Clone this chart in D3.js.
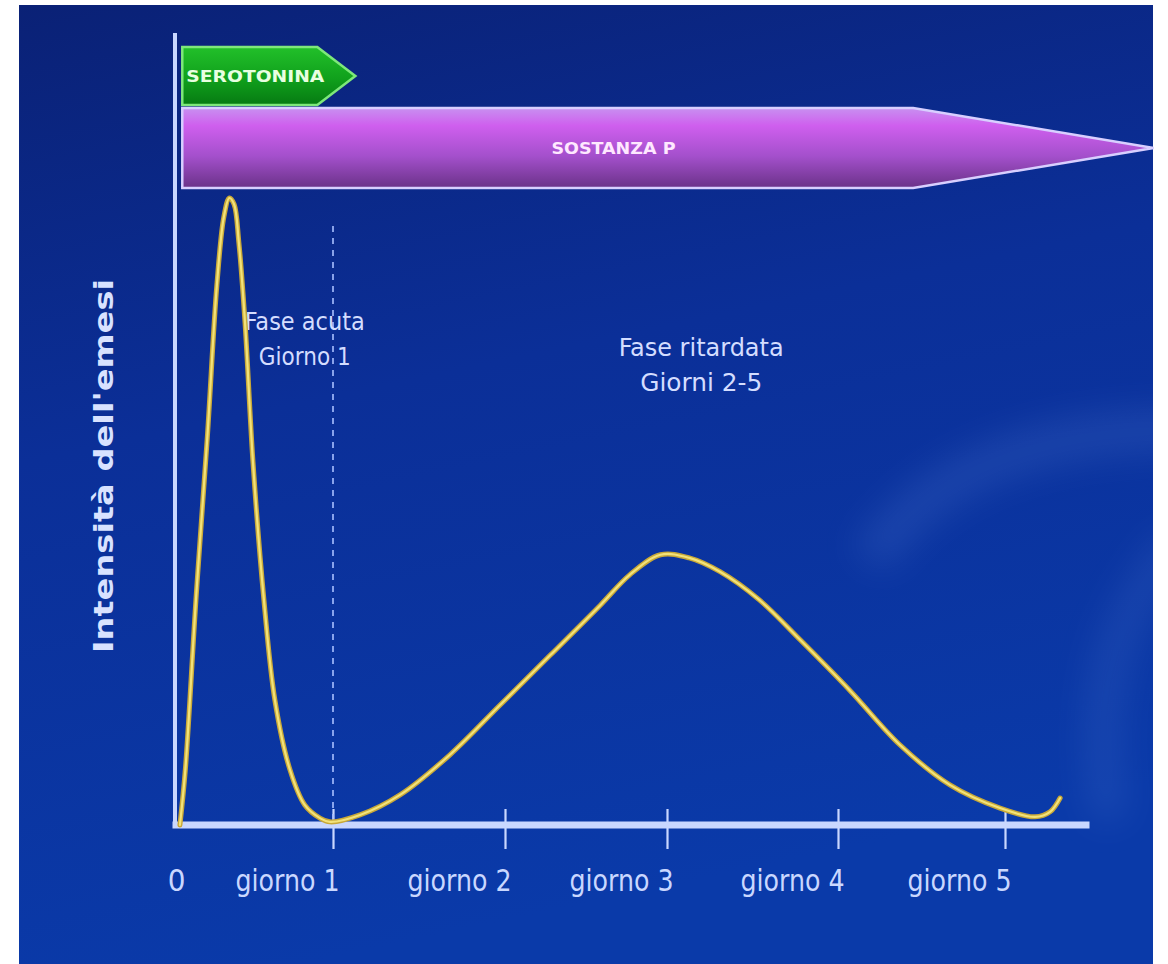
<!DOCTYPE html>
<html>
<head>
<meta charset="utf-8">
<script src="https://cdn.jsdelivr.net/npm/d3@7"></script>
<style>
  html, body { margin: 0; padding: 0; background: #ffffff; }
  svg { display: block; }
</style>
</head>
<body>
<svg id="chart" width="1168" height="964"></svg>
<script>
// Time axis: days after chemotherapy
const dayTicks = [0, 1, 2, 3, 4, 5];
const tickLabels = ["0", "giorno 1", "giorno 2", "giorno 3", "giorno 4", "giorno 5"];

// Emesis intensity over time (relative units, acute peak = 100)
const curveDays = [0.025, 0.06, 0.127, 0.2, 0.26, 0.305, 0.34, 0.37, 0.4, 0.44, 0.49, 0.56, 0.63, 0.726, 0.82, 0.917, 0.98,
                   1.157, 1.39, 1.68, 1.97, 2.28, 2.59, 2.77, 2.96, 3.13, 3.31, 3.54, 3.78, 4.07, 4.37, 4.67, 4.97, 5.18, 5.27, 5.33];
const curveIntensity = [0, 9, 35.9, 62, 86, 97, 100, 99, 93, 80, 58, 35.9, 19.9, 8.8, 3.2, 1.1, 0.5,
                        1.6, 4.8, 11.2, 19.1, 27.1, 35.1, 39.9, 43.1, 42.6, 40.4, 35.9, 29.5, 21.5, 12.8, 6.4, 2.7, 1.3, 2.1, 4.3];

// Mediators and the span (in days) over which they act
const mediators = ["SEROTONINA", "SOSTANZA P"];
const mediatorStart = [0.04, 0.04];
const mediatorBodyEnd = [0.9, 4.45];
const mediatorTip = [1.13, 5.89];

// Phase annotations
const phaseTitles = ["Fase acuta", "Fase ritardata"];
const phaseSubtitles = ["Giorno 1", "Giorni 2-5"];
const phaseCentres = [0.82, 3.2];
const acuteBoundary = 1;

const yLabel = "Intensità dell'emesi";

const svg = d3.select("#chart");
const defs = svg.append("defs");

// ---- background panel ----
const panel = { x: 19, y: 5, w: 1134, h: 959 };
const bg = defs.append("linearGradient").attr("id", "bg").attr("x1", 0).attr("y1", 0).attr("x2", 0.25).attr("y2", 1);
bg.append("stop").attr("offset", "0%").attr("stop-color", "#0a2176");
bg.append("stop").attr("offset", "45%").attr("stop-color", "#0b2f98");
bg.append("stop").attr("offset", "100%").attr("stop-color", "#0a3aa9");

defs.append("clipPath").attr("id", "panelClip")
  .append("rect").attr("x", panel.x).attr("y", panel.y).attr("width", panel.w).attr("height", panel.h);

defs.append("filter").attr("id", "soft").attr("filterUnits", "userSpaceOnUse")
  .attr("x", 0).attr("y", 0).attr("width", 1168).attr("height", 964)
  .append("feGaussianBlur").attr("stdDeviation", 18);

svg.append("rect").attr("x", panel.x).attr("y", panel.y).attr("width", panel.w).attr("height", panel.h).attr("fill", "url(#bg)");

// faint light sweep on the right of the panel
const sweep = svg.append("g").attr("clip-path", "url(#panelClip)");
sweep.append("path")
  .attr("d", "M870,560 C930,470 1040,430 1190,430")
  .attr("fill", "none").attr("stroke", "#5a82d8").attr("stroke-width", 40)
  .attr("opacity", 0.22).attr("filter", "url(#soft)");
sweep.append("path")
  .attr("d", "M1180,540 C1110,620 1090,700 1110,820")
  .attr("fill", "none").attr("stroke", "#5a82d8").attr("stroke-width", 34)
  .attr("opacity", 0.2).attr("filter", "url(#soft)");

// ---- scales ----
const x = d3.scaleLinear().domain(dayTicks).range([176, 333, 505, 667, 838, 1005]);
const y = d3.scaleLinear().domain([0, 100]).range([825, 198]);

const axisColor = "#c9d7ff";

// ---- mediator arrows ----
const gGreen = defs.append("linearGradient").attr("id", "green").attr("x1", 0).attr("y1", 0).attr("x2", 0).attr("y2", 1);
gGreen.append("stop").attr("offset", "0%").attr("stop-color", "#22c02a");
gGreen.append("stop").attr("offset", "55%").attr("stop-color", "#10a01c");
gGreen.append("stop").attr("offset", "100%").attr("stop-color", "#067a12");

const gPurple = defs.append("linearGradient").attr("id", "purple").attr("x1", 0).attr("y1", 0).attr("x2", 0).attr("y2", 1);
gPurple.append("stop").attr("offset", "0%").attr("stop-color", "#c890f0");
gPurple.append("stop").attr("offset", "22%").attr("stop-color", "#cf5fee");
gPurple.append("stop").attr("offset", "60%").attr("stop-color", "#a450cc");
gPurple.append("stop").attr("offset", "100%").attr("stop-color", "#6a3288");

const bands = [{ top: 47, bottom: 105, fill: "url(#green)", edge: "#7ee87a", text: "#e8ffe0", anchor: 0.03, len: 138 },
               { top: 108, bottom: 188, fill: "url(#purple)", edge: "#d8cfff", text: "#ffe8ff", anchor: 0.59, len: 124 }];

mediators.forEach((name, i) => {
  const b = bands[i];
  const x0 = x(mediatorStart[i]), x1 = x(mediatorBodyEnd[i]), xt = x(mediatorTip[i]);
  const mid = (b.top + b.bottom) / 2;
  const pts = [[x0, b.top], [x1, b.top], [xt, mid], [x1, b.bottom], [x0, b.bottom]];
  svg.append("path")
    .attr("d", d3.line()(pts) + "Z")
    .attr("fill", b.fill)
    .attr("stroke", b.edge).attr("stroke-width", 2.5).attr("stroke-linejoin", "miter");
  svg.append("text")
    .attr("x", x0 + b.anchor * (x1 - x0)).attr("y", mid + 6)
    .attr("text-anchor", i === 0 ? "start" : "middle")
    .attr("font-family", "DejaVu Sans Condensed, DejaVu Sans, sans-serif")
    .attr("font-weight", "bold").attr("font-size", 16)
    .attr("fill", b.text)
    .attr("textLength", b.len).attr("lengthAdjust", "spacingAndGlyphs")
    .text(name);
});

// ---- axes ----
const xAxis = d3.axisBottom(x).tickValues(dayTicks).tickSize(0).tickFormat("");
const gx = svg.append("g").attr("transform", `translate(0,${y(0)})`).call(xAxis);
gx.select(".domain").remove();
gx.append("line").attr("x1", 176).attr("x2", 1086).attr("y1", 0).attr("y2", 0)
  .attr("stroke", axisColor).attr("stroke-width", 7).attr("stroke-linecap", "square");
gx.selectAll(".tick").each(function (d) {
  const t = d3.select(this);
  if (d > 0) {
    t.append("line").attr("y1", -16).attr("y2", 24).attr("stroke", axisColor).attr("stroke-width", 2.2);
  }
  t.append("text")
    .attr("x", d === 0 ? 0 : 6).attr("y", 66)
    .attr("text-anchor", d === 0 ? "middle" : "end")
    .attr("font-family", "DejaVu Sans Condensed, DejaVu Sans, sans-serif")
    .attr("font-size", 31)
    .attr("fill", axisColor)
    .attr("stroke", "none")
    .attr("textLength", d === 0 ? null : 104)
    .attr("lengthAdjust", "spacingAndGlyphs")
    .text(tickLabels[dayTicks.indexOf(d)]);
});

svg.append("line").attr("x1", 175).attr("x2", 175).attr("y1", 33).attr("y2", y(0) + 3)
  .attr("stroke", axisColor).attr("stroke-width", 4);

// y label
svg.append("text")
  .attr("transform", `translate(113,${466}) rotate(-90)`)
  .attr("text-anchor", "middle")
  .attr("font-family", "DejaVu Sans, sans-serif")
  .attr("font-weight", "bold").attr("font-size", 27)
  .attr("fill", "#d8e2ff")
  .attr("textLength", 374).attr("lengthAdjust", "spacingAndGlyphs")
  .text(yLabel);

// acute / delayed boundary
svg.append("line")
  .attr("x1", x(acuteBoundary)).attr("x2", x(acuteBoundary))
  .attr("y1", 226).attr("y2", y(0))
  .attr("stroke", "#a9c0ff").attr("stroke-width", 1.6).attr("stroke-dasharray", "6,6");

// phase annotations
phaseTitles.forEach((t, i) => {
  const cx = x(phaseCentres[i]);
  const top = i === 0 ? 330 : 356;
  const g = svg.append("g")
    .attr("font-family", "DejaVu Sans Condensed, DejaVu Sans, sans-serif")
    .attr("font-size", 25).attr("fill", "#d4ddff").attr("text-anchor", "middle");
  g.append("text").attr("x", cx).attr("y", top)
    .attr("textLength", i === 0 ? 120 : 165).attr("lengthAdjust", "spacingAndGlyphs").text(t);
  g.append("text").attr("x", cx).attr("y", top + 35)
    .attr("textLength", i === 0 ? 92 : 122).attr("lengthAdjust", "spacingAndGlyphs").text(phaseSubtitles[i]);
});

// ---- emesis curve ----
const curvePts = curveDays.map((d, i) => [d, curveIntensity[i]]);
const line = d3.line().x(d => x(d[0])).y(d => y(d[1])).curve(d3.curveCatmullRom.alpha(0.5));
svg.append("path").attr("d", line(curvePts))
  .attr("fill", "none").attr("stroke", "#c8a838").attr("stroke-width", 5).attr("stroke-linecap", "round");
svg.append("path").attr("d", line(curvePts))
  .attr("fill", "none").attr("stroke", "#f2e27a").attr("stroke-width", 2.2).attr("stroke-linecap", "round");
</script>
</body>
</html>
